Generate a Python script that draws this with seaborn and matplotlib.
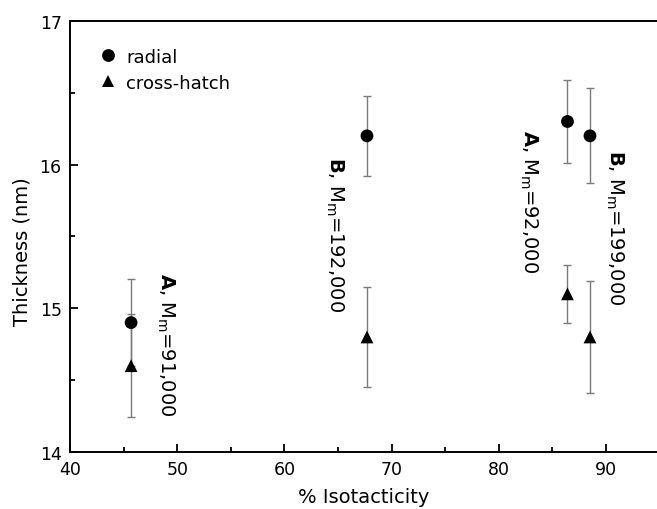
import pandas as pd
import matplotlib.pyplot as plt
import seaborn as sns

# values
isotacticity = [45.7, 67.7, 86.4, 88.5]
radial_thickness = [14.90, 16.20, 16.30, 16.20]
radial_err = [0.30, 0.28, 0.29, 0.33]
hatch_thickness = [14.60, 14.80, 15.10, 14.80]
hatch_err = [0.36, 0.35, 0.20, 0.39]
sample_labels = [r"$\mathbf{A}$, M$_\mathrm{m}$=91,000",
                 r"$\mathbf{B}$, M$_\mathrm{m}$=192,000",
                 r"$\mathbf{A}$, M$_\mathrm{m}$=92,000",
                 r"$\mathbf{B}$, M$_\mathrm{m}$=199,000"]


def build_frame():
    """
    Put both lamellae types in one long table
    """
    radial = pd.DataFrame({'iso': isotacticity, 'thickness': radial_thickness,
                           'err': radial_err, 'type': 'radial'})
    hatch = pd.DataFrame({'iso': isotacticity, 'thickness': hatch_thickness,
                          'err': hatch_err, 'type': 'cross-hatch'})
    return pd.concat([radial, hatch], ignore_index=True)


def main():
    df = build_frame()

    sns.set_style('ticks')
    plt.rcParams['font.family'] = ['DejaVu Sans']
    plt.rcParams['mathtext.fontset'] = 'dejavusans'
    for key in ['text.color', 'axes.labelcolor', 'xtick.color', 'ytick.color', 'axes.edgecolor']:
        plt.rcParams[key] = 'black'

    fig = plt.figure(figsize=(6.57, 5.10), dpi=100)
    ax = fig.add_axes([0.1065, 0.112, 0.8935, 0.845])

    # error bars first, markers on top
    ax.errorbar(df['iso'], df['thickness'], yerr=df['err'], fmt='none',
                ecolor='#7a7a7a', elinewidth=1.0, capsize=3, capthick=1.0, zorder=2)
    sns.scatterplot(data=df, x='iso', y='thickness', style='type',
                    markers={'radial': 'o', 'cross-hatch': '^'},
                    color='black', s=85, edgecolor='black', linewidth=0,
                    ax=ax, zorder=3)

    # sample annotations, read top to bottom
    label_pos = [(48.9, 14.75), (64.7, 15.52), (82.8, 15.75), (90.8, 15.57)]
    for (x, y), txt in zip(label_pos, sample_labels):
        ax.text(x, y, txt, rotation=-90, ha='center', va='center', fontsize=14)

    ax.set_xlim(40, 94.75)
    ax.set_ylim(14, 17)
    ax.set_xticks([40, 50, 60, 70, 80, 90])
    ax.set_xticks([45, 55, 65, 75, 85], minor=True)
    ax.set_yticks([14, 15, 16, 17])
    ax.set_yticks([14.5, 15.5, 16.5], minor=True)
    ax.tick_params(which='major', direction='in', length=6, width=1.3, labelsize=12.5, pad=6)
    ax.tick_params(which='minor', direction='in', length=3.5, width=1.3)

    for side in ['left', 'bottom', 'top']:
        ax.spines[side].set_linewidth(1.4)
    ax.spines['right'].set_visible(False)

    ax.set_xlabel('% Isotacticity', fontsize=14)
    ax.set_ylabel('Thickness (nm)', fontsize=14)
    ax.xaxis.set_label_coords(0.5, -0.081)
    ax.yaxis.set_label_coords(-0.065, 0.466)

    leg = ax.legend(loc='upper left', bbox_to_anchor=(0.022, 0.955), frameon=False,
                    fontsize=13, handletextpad=0.0, labelspacing=0.45,
                    borderaxespad=0, markerscale=1.0)
    leg.set_title(None)

    fig.savefig('out.png', dpi=100)
    plt.close(fig)


if __name__ == "__main__":
    main()
